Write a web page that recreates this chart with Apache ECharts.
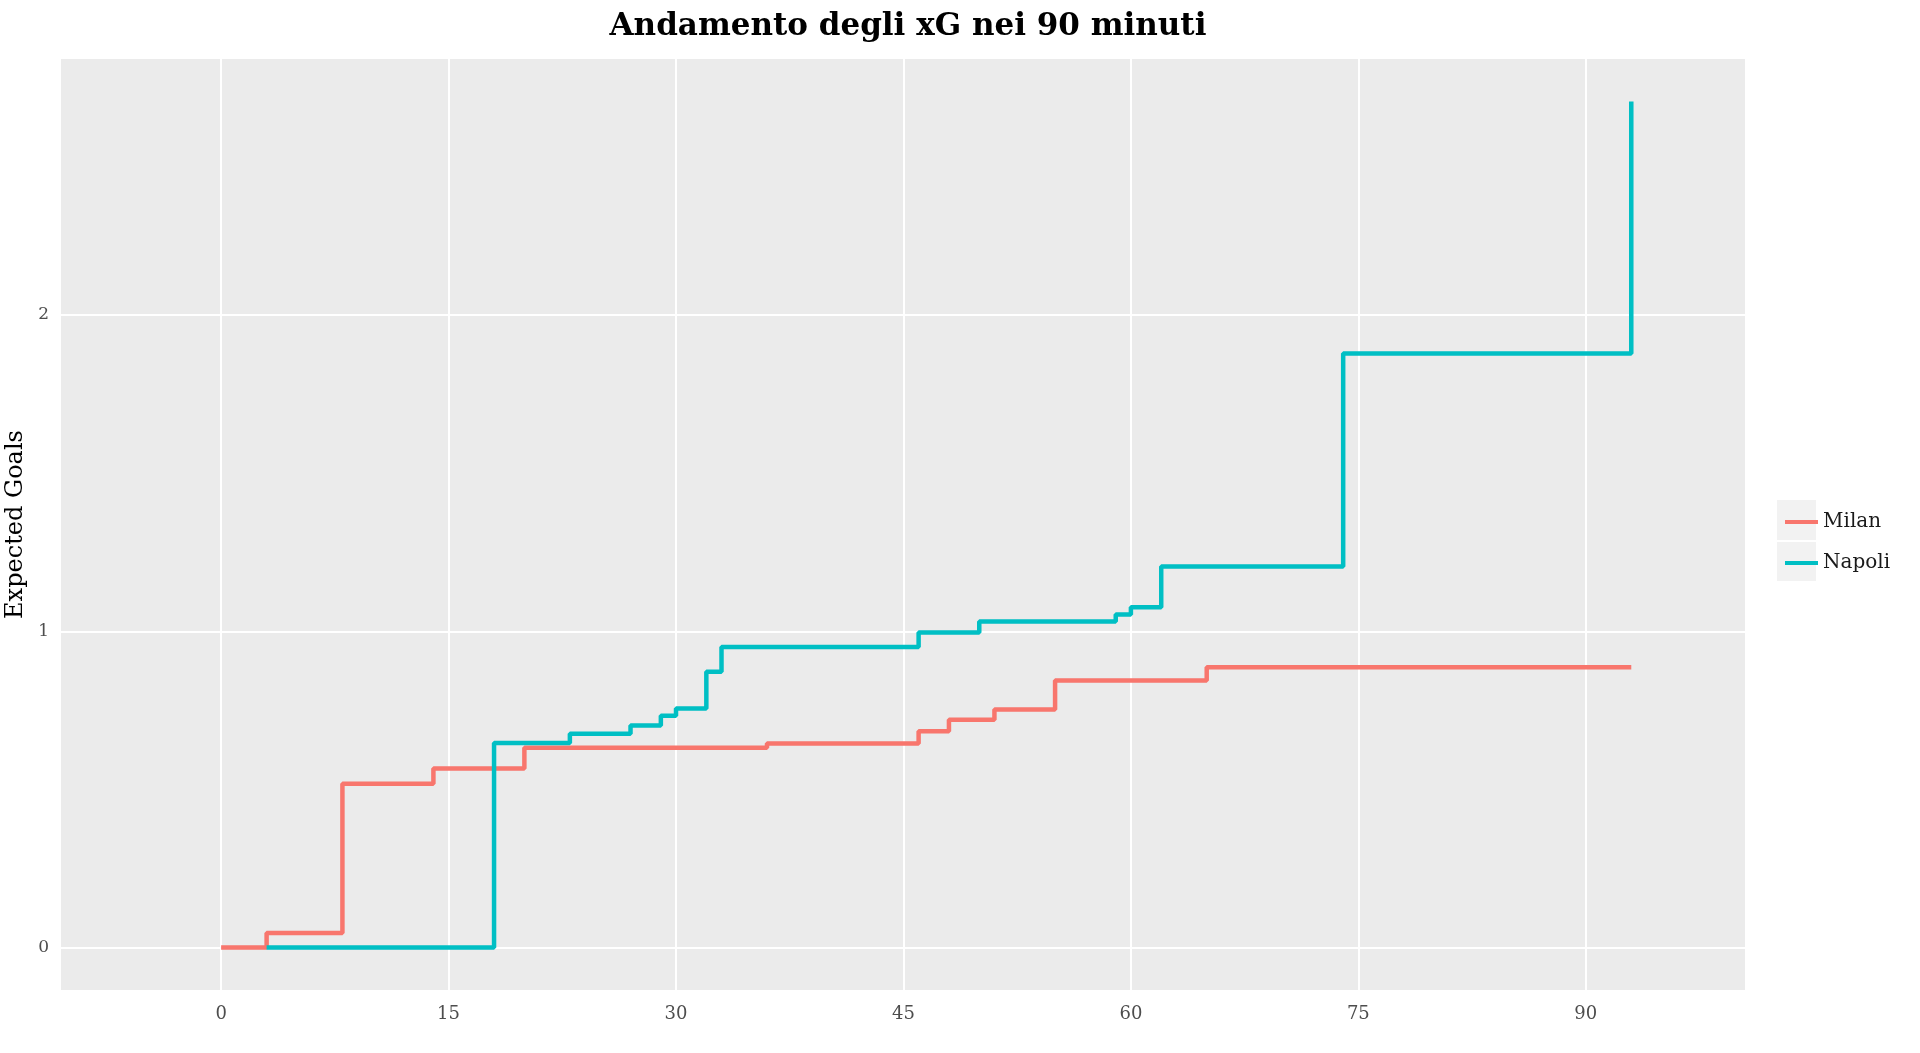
<!DOCTYPE html>
<html>
<head>
<meta charset="utf-8">
<script src="https://cdn.jsdelivr.net/npm/echarts@6/dist/echarts.min.js"></script>
<style>
html,body{margin:0;padding:0;background:#fff;}
#chart{width:1920px;height:1053px;}
</style>
</head>
<body>
<div id="chart"></div>
<script>
// Data (minute, cumulative xG)
var milanMinutes = [0, 3, 8, 14, 20, 36, 46, 48, 51, 55, 65, 93];
var milanXG      = [0, 0.046, 0.518, 0.566, 0.632, 0.645, 0.684, 0.720, 0.753, 0.844, 0.886, 0.886];
var napoliMinutes = [3, 18, 23, 27, 29, 30, 32, 33, 46, 50, 59, 60, 62, 74, 93];
var napoliXG      = [0, 0.647, 0.676, 0.702, 0.733, 0.756, 0.872, 0.950, 0.996, 1.031, 1.053, 1.076, 1.205, 1.878, 2.675];
var xTicks = [0, 15, 30, 45, 60, 75, 90];
var yTicks = [0, 1, 2];
var seriesNames = ['Milan', 'Napoli'];
var seriesColors = ['#F8766D', '#00BFC4'];

function pairs(xs, ys) { return xs.map(function (x, i) { return [x, ys[i]]; }); }

var FONT = 'DejaVu Serif';
var chart = echarts.init(document.getElementById('chart'), null, { renderer: 'canvas' });

var option = {
  backgroundColor: '#ffffff',
  animation: false,
  title: {
    text: 'Andamento degli xG nei 90 minuti',
    left: 903,
    textAlign: 'center',
    top: 6,
    textStyle: { fontFamily: FONT, fontWeight: 'bold', fontSize: 31, color: '#000' }
  },
  grid: { left: 61, right: 175, top: 59, bottom: 63, show: true, backgroundColor: '#EBEBEB', borderWidth: 0, outerBoundsMode: 'none', containLabel: false },
  legend: {
    orient: 'vertical',
    left: 1780,
    top: 507,
    icon: 'rect',
    itemWidth: 33,
    itemHeight: 4,
    itemGap: 21,
    data: seriesNames,
    textStyle: { fontFamily: FONT, fontSize: 20, color: '#1a1a1a', lineHeight: 20, padding: [0, 0, 0, 0] }
  },
  graphic: [
    { type: 'rect', left: 1777, top: 500, shape: { width: 39, height: 40 }, style: { fill: '#F2F2F2' }, z: -1 },
    { type: 'rect', left: 1777, top: 542, shape: { width: 39, height: 39 }, style: { fill: '#F2F2F2' }, z: -1 }
  ],
  xAxis: {
    type: 'value',
    min: -10.56,
    max: 100.5,
    axisLine: { show: false },
    axisTick: { show: true, customValues: xTicks, length: 5, lineStyle: { color: '#333', width: 1.5 } },
    axisLabel: { customValues: xTicks, fontFamily: FONT, fontSize: 18, color: '#4D4D4D', margin: 15 },
    splitLine: { show: false }
  },
  yAxis: {
    type: 'value',
    min: -0.134,
    max: 2.809,
    name: 'Expected Goals',
    nameLocation: 'middle',
    nameRotate: 90,
    nameGap: 31,
    nameTextStyle: { fontFamily: FONT, fontSize: 24, color: '#000' },
    axisLine: { show: false },
    axisTick: { show: true, customValues: yTicks, length: 5, lineStyle: { color: '#333', width: 1.5 } },
    axisLabel: { customValues: yTicks, fontFamily: FONT, fontSize: 17, color: '#4D4D4D', margin: 12 },
    splitLine: { show: false }
  },
  series: [
    {
      name: 'grid', type: 'line', data: [], silent: true, z: 1,
      markLine: {
        silent: true, symbol: 'none', z: 1, label: { show: false },
        lineStyle: { color: '#ffffff', width: 2, type: 'solid' },
        emphasis: { disabled: true },
        data: xTicks.map(function (v) { return { xAxis: v }; })
          .concat(yTicks.map(function (v) { return { yAxis: v }; }))
      }
    },
    {
      name: seriesNames[0], type: 'line', step: 'end', symbol: 'none', z: 10,
      data: pairs(milanMinutes, milanXG),
      itemStyle: { color: seriesColors[0] },
      lineStyle: { color: seriesColors[0], width: 4.5 }
    },
    {
      name: seriesNames[1], type: 'line', step: 'end', symbol: 'none', z: 11,
      data: pairs(napoliMinutes, napoliXG),
      itemStyle: { color: seriesColors[1] },
      lineStyle: { color: seriesColors[1], width: 4.5 }
    }
  ]
};
chart.setOption(option);
</script>
</body>
</html>
